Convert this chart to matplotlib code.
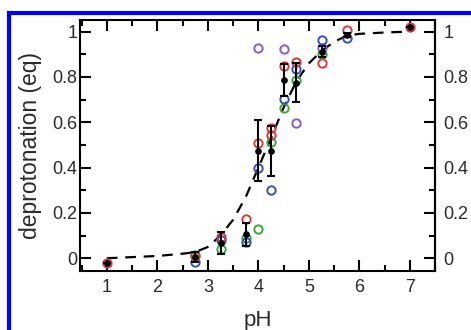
"""Deprotonation titration curve vs pH."""

import numpy as np
import matplotlib
matplotlib.use("Agg")
import matplotlib.pyplot as plt
from matplotlib.patches import Rectangle
from matplotlib.ticker import MultipleLocator, FixedLocator, FuncFormatter

plt.rcParams["font.family"] = ["Liberation Sans", "DejaVu Sans"]

# dashed guide curve
curve_ph = [1, 1.5, 2, 2.5, 2.75, 3, 3.25, 3.5, 3.75, 4, 4.25, 4.5, 4.75, 5,
            5.25, 5.5, 5.75, 6, 6.5, 7]
curve_y = [0.0, 0.005, 0.01, 0.02, 0.027, 0.05, 0.1, 0.17, 0.27, 0.40, 0.53,
           0.665, 0.78, 0.86, 0.915, 0.955, 0.982, 0.99, 0.996, 1.0]

# individual runs (open circles)
red_ph = [1, 2.75, 3.25, 3.75, 4, 4.25, 4.25, 4.5, 4.75, 5.25, 5.75, 7]
red_y = [-0.02, 0.01, 0.095, 0.172, 0.51, 0.573, 0.545, 0.849, 0.868, 0.86, 1.007, 1.022]
blue_ph = [2.75, 3.25, 3.75, 4, 4.25, 4.5, 4.75, 5.25, 5.75]
blue_y = [-0.015, 0.08, 0.07, 0.40, 0.30, 0.703, 0.835, 0.963, 0.97]
green_ph = [2.75, 3.25, 3.75, 4, 4.25, 4.5, 4.75, 5.25]
green_y = [0.015, 0.04, 0.088, 0.128, 0.515, 0.662, 0.787, 0.90]
purple_ph = [4, 4.5, 4.75, 5.25]
purple_y = [0.929, 0.922, 0.596, 0.926]

# mean and spread (filled dots with error bars)
mean_ph = [1, 2.75, 3.25, 3.75, 4, 4.25, 4.5, 4.75, 5.25, 5.75, 7]
mean_y = [-0.02, 0.005, 0.067, 0.105, 0.475, 0.474, 0.787, 0.775, 0.912, 0.985, 1.022]
mean_err = [0.0, 0.022, 0.05, 0.05, 0.135, 0.11, 0.07, 0.085, 0.025, 0.01, 0.0]

y_ticks = [0, 0.2, 0.4, 0.6, 0.8, 1]

fig = plt.figure(figsize=(4.71, 3.30), dpi=100)
ax = fig.add_axes([0.170, 0.179, 0.754, 0.761])

ax.plot(curve_ph, curve_y, "--", color="black", lw=1.6, dashes=(4.8, 3.5), zorder=2)

circ = dict(ls="none", marker="o", ms=6, mfc="none", mew=1.4, zorder=3)
ax.plot(purple_ph, purple_y, mec="#8a5cc8", **circ)
ax.plot(green_ph, green_y, mec="#3aa83a", **circ)
ax.plot(blue_ph, blue_y, mec="#3450c0", **circ)
ax.plot(red_ph, red_y, mec="#d83a3a", **circ)

ax.errorbar(mean_ph, mean_y, yerr=mean_err, fmt="o", color="black", ms=3.8,
            elinewidth=1.5, capsize=3, capthick=1.5, zorder=4)

ax.set_xlim(0.47, 7.5)
ax.set_ylim(-0.056, 1.052)

fmt = FuncFormatter(lambda v, p: f"{v:g}")
ax.xaxis.set_major_locator(MultipleLocator(1))
ax.xaxis.set_minor_locator(MultipleLocator(0.5))
ax.yaxis.set_major_locator(FixedLocator(y_ticks))
ax.yaxis.set_minor_locator(MultipleLocator(0.1))
ax.yaxis.set_major_formatter(fmt)

txt = "#2a2a2a"
ax.tick_params(which="both", direction="in", top=True, right=True, width=1.5,
               labelsize=13, labelcolor=txt)
ax.tick_params(which="major", length=8)
ax.tick_params(which="minor", length=4.5)
ax.tick_params(axis="x", pad=6)
ax.tick_params(axis="y", pad=2)

# right-hand labels
sec = ax.secondary_yaxis("right")
sec.yaxis.set_major_locator(FixedLocator(y_ticks))
sec.yaxis.set_major_formatter(fmt)
sec.tick_params(length=0, pad=6, labelsize=13, labelcolor=txt)

for s in ax.spines.values():
    s.set_linewidth(1.5)
sec.spines["right"].set_linewidth(1.5)

ax.set_xlabel("pH", fontsize=16, color=txt, labelpad=10)
ax.set_ylabel("deprotonation (eq)", fontsize=16.5, color=txt, labelpad=7)

# blue frame around the figure
fig.patches.append(Rectangle((9 / 471, -0.1), 1.2, 1 - 13 / 330 + 0.1,
                             transform=fig.transFigure, fill=False,
                             edgecolor="#0000ff", lw=3, zorder=10))

plt.savefig("out.png", dpi=100)
